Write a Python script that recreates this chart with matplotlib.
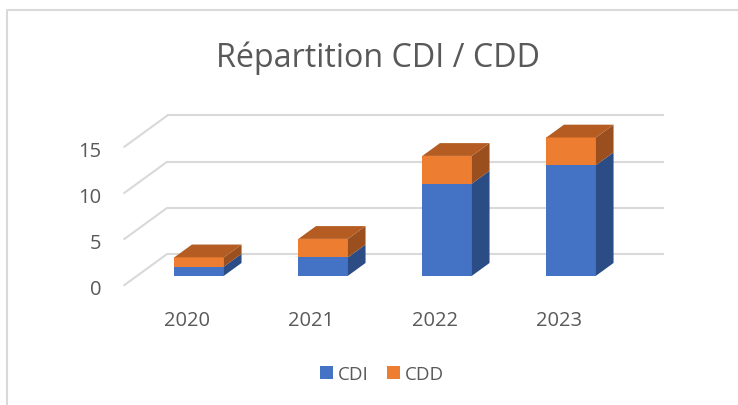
import matplotlib
matplotlib.use("Agg")
import matplotlib.pyplot as plt
from matplotlib.patches import Polygon, Patch
from matplotlib.lines import Line2D

# ---- data ----
years = ["2020", "2021", "2022", "2023"]
cdi = [1, 2, 10, 12]
cdd = [1, 2, 3, 3]
yticks = [0, 5, 10, 15]
title = "Répartition CDI / CDD"
series_names = ["CDI", "CDD"]

# ---- style ----
FONT = "Open Sans"
TXT = "#595959"
GRID = "#d9d9d9"
C_CDI = "#4472C4"
C_CDI_SIDE = "#2B4C84"
C_CDD = "#ED7D31"
C_CDD_SIDE = "#9C4F1E"
C_CDD_TOP = "#B45C22"

W, H = 738, 406
fig = plt.figure(figsize=(W / 100, H / 100), dpi=100)
ax = fig.add_axes([0, 0, 1, 1])
ax.set_axis_off()

# pixel mapping of the 3D floor-front plane
PX_CAT, X0 = 124.0, 185.5
PX_VAL, Y0 = 9.22, 286.7
ax.set_xlim((0 - X0) / PX_CAT, (W - X0) / PX_CAT)
ax.set_ylim((Y0 - H) / PX_VAL, (Y0 - 0) / PX_VAL)

# oblique depth vector (full floor depth) in data units
DX, DY = 44 / PX_CAT, 32 / PX_VAL
n = len(years)
left, right = -0.5, n - 0.5

# walls gridlines
for v in yticks:
    ax.plot([left, left + DX], [v, v + DY], color=GRID, lw=1.5, solid_capstyle="butt", zorder=1)
    ax.plot([left + DX, right + DX], [v + DY, v + DY], color=GRID, lw=1.5, solid_capstyle="butt", zorder=1)
    ax.text(-0.676, v - 0.93, str(v), ha="right", va="baseline", fontsize=14.5,
            color=TXT, family=FONT)

# bars
f0, fd = 0.31, 0.40      # front position & depth as fraction of floor depth
bw = 0.40
ox, oy = f0 * DX, f0 * DY
bx, by = fd * DX, fd * DY


def box(xc, y0, y1, cf, cs, ct=None, z=3):
    xl = xc - bw / 2 + ox
    xr = xc + bw / 2 + ox
    ya, yb = y0 + oy, y1 + oy
    ax.add_patch(Polygon([(xl, ya), (xr, ya), (xr, yb), (xl, yb)], closed=True,
                         facecolor=cf, edgecolor="none", zorder=z))
    ax.add_patch(Polygon([(xr, ya), (xr + bx, ya + by), (xr + bx, yb + by), (xr, yb)], closed=True,
                         facecolor=cs, edgecolor="none", zorder=z))
    if ct is not None:
        ax.add_patch(Polygon([(xl, yb), (xr, yb), (xr + bx, yb + by), (xl + bx, yb + by)], closed=True,
                             facecolor=ct, edgecolor="none", zorder=z))


for i in range(n):
    box(i, 0, cdi[i], C_CDI, C_CDI_SIDE, z=3 + i)
    box(i, cdi[i], cdi[i] + cdd[i], C_CDD, C_CDD_SIDE, C_CDD_TOP, z=3 + i)
    ax.text(i + 0.012, -4.23, years[i], ha="center", va="baseline", fontsize=14.5,
            color=TXT, family=FONT)

# title
fig.text(378 / W, 1 - 66.7 / H, title, ha="center", va="baseline", fontsize=23.2,
         color=TXT, family=FONT)

# legend
handles = [Patch(facecolor=C_CDI, edgecolor="none", label=series_names[0]),
           Patch(facecolor=C_CDD, edgecolor="none", label=series_names[1])]
fig.legend(handles=handles, loc="center", bbox_to_anchor=(382 / W, 1 - 375 / H), ncol=2,
           frameon=False, handlelength=0.7, handleheight=0.7, handletextpad=0.28,
           columnspacing=0.94, labelcolor=TXT, prop={"family": FONT, "size": 13.5})

# chart border (top and left visible)
fig.add_artist(Line2D([7 / W, 7 / W, 1], [0, 1 - 11 / H, 1 - 11 / H], transform=fig.transFigure,
                      color=GRID, lw=1.5))

fig.savefig("out.png", dpi=100)
